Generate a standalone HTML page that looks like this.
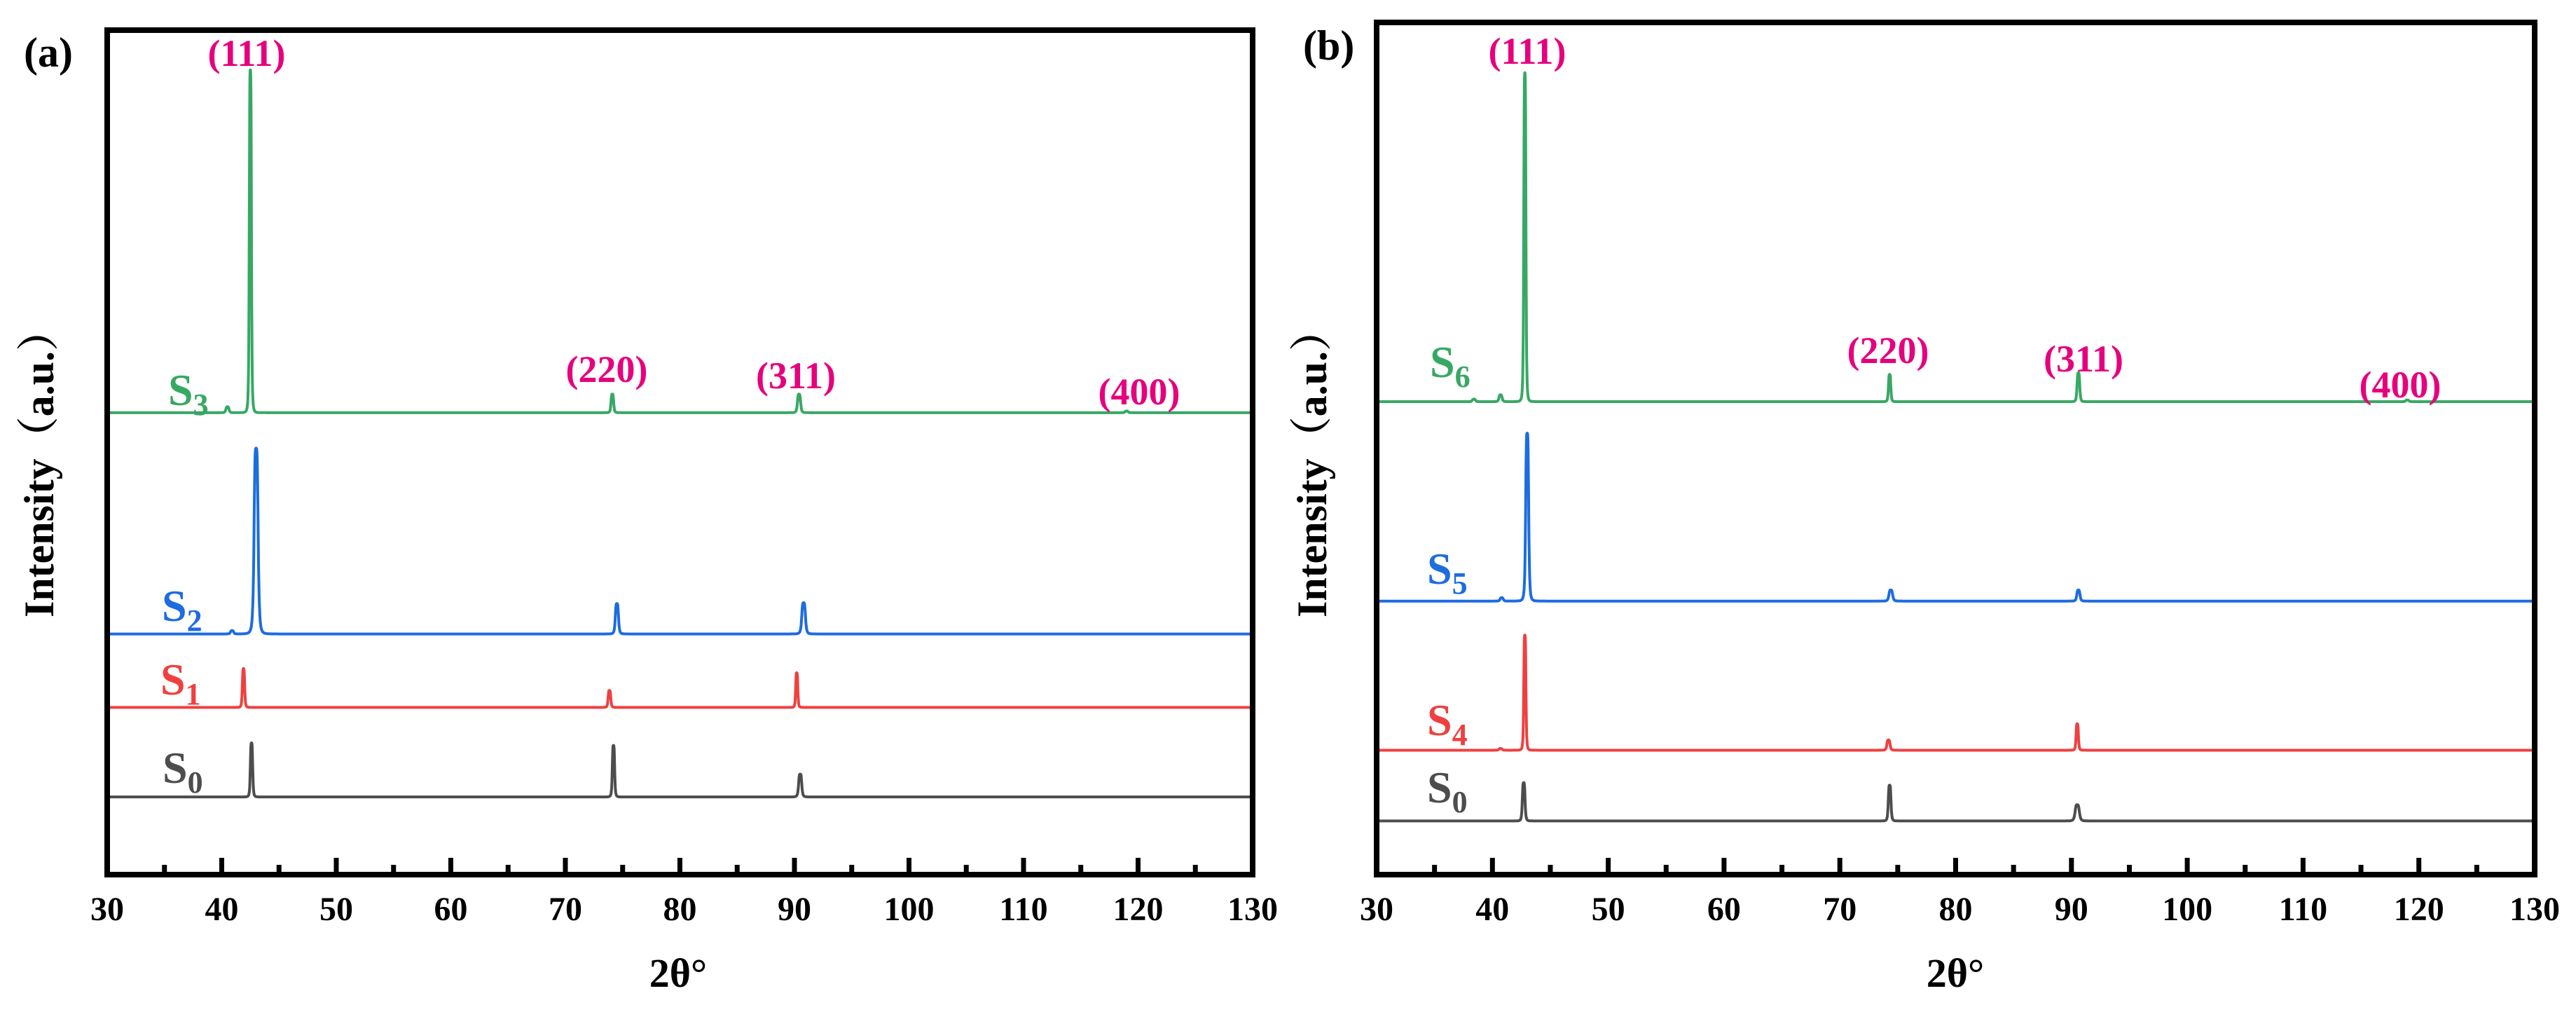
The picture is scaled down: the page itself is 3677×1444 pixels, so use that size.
<!DOCTYPE html>
<html><head><meta charset="utf-8">
<style>
html,body{margin:0;padding:0;background:#fff;}
svg{display:block;}
text{font-family:"Liberation Serif","Noto Serif CJK SC",serif;font-weight:bold;}
</style></head>
<body>
<svg id="chart" width="3677" height="1444" viewBox="0 0 3677 1444" xmlns="http://www.w3.org/2000/svg"></svg>
<script>
// ---- data ----
const xTicks = [30,40,50,60,70,80,90,100,110,120,130];
const hklLabels = ["(111)","(220)","(311)","(400)"];
// panel a
const aNames = ["S0","S1","S2","S3"];
const aBase = [92,198,285,547];
const aPeakPos = [[42.6,74.2,90.5],[41.9,73.85,90.2],[40.9,43.0,74.5,90.8],[40.5,42.5,74.1,90.4,119]];
const aPeakH = [[64,61,27],[46,20,41],[4,220,36,37],[7,406,22,22,2]];
const aPeakW = [[0.22,0.22,0.3],[0.22,0.25,0.2],[0.3,0.38,0.3,0.35],[0.3,0.2,0.25,0.3,0.3]];
// panel b
const bNames = ["S0","S4","S5","S6"];
const bBase = [63,146,321,555];
const bPeakPos = [[42.7,74.3,90.5],[40.7,42.8,74.2,90.5],[40.8,43.0,74.4,90.6],[38.4,40.7,42.8,74.3,90.6,119]];
const bPeakH = [[45,42,19],[2,135,12,31],[4,197,13,13],[3,8,386,32,34,2]];
const bPeakW = [[0.25,0.25,0.4],[0.3,0.2,0.3,0.22],[0.3,0.28,0.35,0.3],[0.3,0.3,0.2,0.22,0.25,0.3]];
const colors = ["#4d4d4d","#ef4040","#1d6ce0","#37a864"];
const subs = {S0:"0",S1:"1",S2:"2",S3:"3",S4:"4",S5:"5",S6:"6"};

const svg = document.getElementById('chart');
const NS = "http://www.w3.org/2000/svg";
function mk(tag, attrs, parent){const e=document.createElementNS(NS,tag);for(const k in attrs)e.setAttribute(k,attrs[k]);(parent||svg).appendChild(e);return e;}

function panel(cfg){
  const {L,R,T,B,scaleY,names,base,pos,hh,ww,letter,labelPos,hklPos,ylabX,titleX,sLabel} = cfg;
  const g = mk('g',{});
  
  
  const xs = v => L + (v-30)/100*(R-L);
  const ys = v => B - v*scaleY;
  for(let s=0;s<names.length;s++){
    let d="";
    for(let x=30.2;x<=130;x+=0.02){
      let v=base[s];
      for(let p=0;p<pos[s].length;p++){
        const dx=(x-pos[s][p])/(ww[s][p]/2);
        v+=hh[s][p]/(1+dx*dx*dx*dx);
      }
      d+=(d?"L":"M")+xs(x).toFixed(1)+","+ys(v).toFixed(1);
    }
    const path=mk('path',{d:d,fill:'none',stroke:colors[s],'stroke-width':4,'stroke-linejoin':'round'},g);
    
    
    const t=mk('text',{x:sLabel[s][0],y:sLabel[s][1],fill:colors[s],'font-size':64},g);
    
    
    t.textContent="S";
    const ts=mk('tspan',{'font-size':44,dy:14},t);
    ts.textContent=subs[names[s]];
  }
  for(let i=0;i<hklLabels.length;i++){
    const t=mk('text',{x:hklPos[i][0],y:hklPos[i][1],fill:'#e6007e','font-size':54,'text-anchor':'middle'},g);
    
    
    t.textContent=hklLabels[i];
  }
  const fr=mk('rect',{x:L,y:T,width:R-L,height:B-T,fill:'none',stroke:'#000','stroke-width':8},g);
  
  
  for(let v=35;v<130;v+=5){
    const major = v%10===0;
    const tk=mk('line',{x1:xs(v),x2:xs(v),y1:B,y2:B-(major?24:14),stroke:'#000','stroke-width':7},g);
    
    
  }
  for(const v of xTicks){
    const t=mk('text',{x:xs(v),y:1313,'font-size':48,'text-anchor':'middle',fill:'#000'},g);
    
    
    t.textContent=v;
  }
  const xt=mk('text',{x:titleX,y:1408,'font-size':58,'text-anchor':'middle',fill:'#000'},g);
  
  
  xt.textContent="2θ°";
  const yt=mk('text',{x:0,y:0,'font-size':60,'text-anchor':'middle',fill:'#000',transform:`translate(${ylabX},661) rotate(-90)`},g);
  
  
  yt.textContent="Intensity（a.u.）";
  const pl=mk('text',{x:labelPos[0],y:labelPos[1],'font-size':60,fill:'#000'},g);
  
  
  pl.textContent="("+letter+")";
}

panel({L:153,R:1788,T:43,B:1248,scaleY:1.205,names:aNames,base:aBase,pos:aPeakPos,hh:aPeakH,ww:aPeakW,letter:'a',
  labelPos:[34,95],hklPos:[[352,94],[866,545],[1136,554],[1626,577]],ylabX:76,titleX:968,
  sLabel:[[232,1117],[229,991],[231,886],[240,578]]});
panel({L:1965,R:3618,T:32,B:1248,scaleY:1.216,names:bNames,base:bBase,pos:bPeakPos,hh:bPeakH,ww:bPeakW,letter:'b',
  labelPos:[1860,85],hklPos:[[2180,91],[2695,518],[2974,530],[3426,567]],ylabX:1893,titleX:2791,
  sLabel:[[2037,1145],[2037,1049],[2037,833],[2041,538]]});
</script>
</body></html>
